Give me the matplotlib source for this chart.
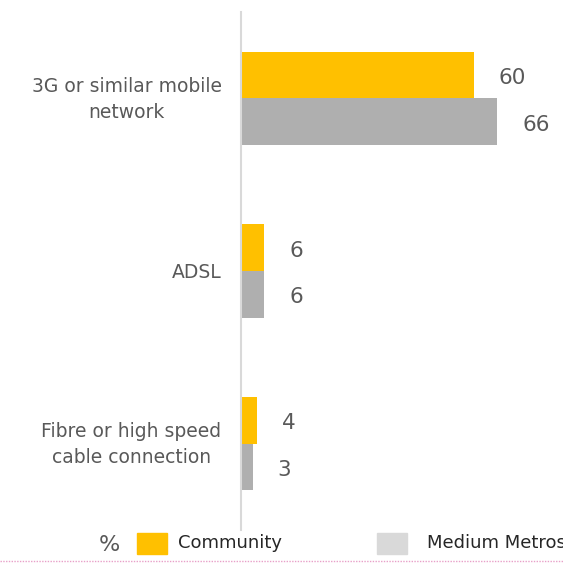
import matplotlib
matplotlib.use("Agg")
import matplotlib.pyplot as plt
from matplotlib.patches import Rectangle
from matplotlib.lines import Line2D
from matplotlib.transforms import ScaledTranslation
import numpy as np

categories = ["3G or similar mobile\nnetwork", "ADSL", "Fibre or high speed\ncable connection"]
series_names = ["Community", "Medium Metros"]
community = [60, 6, 4]
medium_metros = [66, 6, 3]

bar_colors = ["#FFC000", "#AFAFAF"]
legend_colors = ["#FFC000", "#D9D9D9"]
text_color = "#595959"
font = "DejaVu Sans"

W = H = 563
fig = plt.figure(figsize=(W / 100, H / 100), dpi=100)
ax = fig.add_axes([241 / W, (H - 530) / H, (W - 241) / W, (530 - 12) / H])

y = np.arange(len(categories))
h = 0.27
ax.barh(y - h / 2, community, height=h, color=bar_colors[0])
ax.barh(y + h / 2, medium_metros, height=h, color=bar_colors[1])

for vals, off in ((community, -h / 2), (medium_metros, h / 2)):
    for yi, v in zip(y, vals):
        ax.annotate(str(v), (v, yi + off), xytext=(25, -3), textcoords="offset pixels",
                    ha="left", va="center", fontsize=15.5, color=text_color, family=font)

ax.set_ylim(2.5, -0.5)
ax.set_xlim(0, (W - 241) / 3.88)
ax.set_yticks(y)
ax.set_yticklabels(categories, fontsize=13.5, color=text_color, family=font,
                   multialignment="center", linespacing=1.45)
ax.tick_params(axis="y", length=0, pad=14)
# nudge the two-line labels up a little
for lab in ax.get_yticklabels():
    if "\n" in lab.get_text():
        lab.set_transform(lab.get_transform() + ScaledTranslation(0, 0.045, fig.dpi_scale_trans))
ax.set_xticks([])
for s in ("top", "right", "bottom"):
    ax.spines[s].set_visible(False)
ax.spines["left"].set_color("#D9D9D9")
ax.spines["left"].set_linewidth(1.5)

# legend row along the bottom
fig.text(99 / W, 1 - 545 / H, "%", fontsize=16, color=text_color, family=font,
         ha="left", va="center")
patch_x = [137, 377]
text_x = [178, 427]
for px, tx, col, name in zip(patch_x, text_x, legend_colors, series_names):
    fig.add_artist(Rectangle((px / W, 1 - 554 / H), 30 / W, 21 / H,
                             transform=fig.transFigure, color=col))
    fig.text(tx / W, 1 - 543 / H, name, fontsize=13, color="#262626", family=font,
             ha="left", va="center")

fig.add_artist(Line2D([0, 1], [1 - 561 / H] * 2, transform=fig.transFigure,
                      color="#E8A0C8", linestyle=(0, (1, 1)), linewidth=1))

fig.savefig("out.png", dpi=100)
